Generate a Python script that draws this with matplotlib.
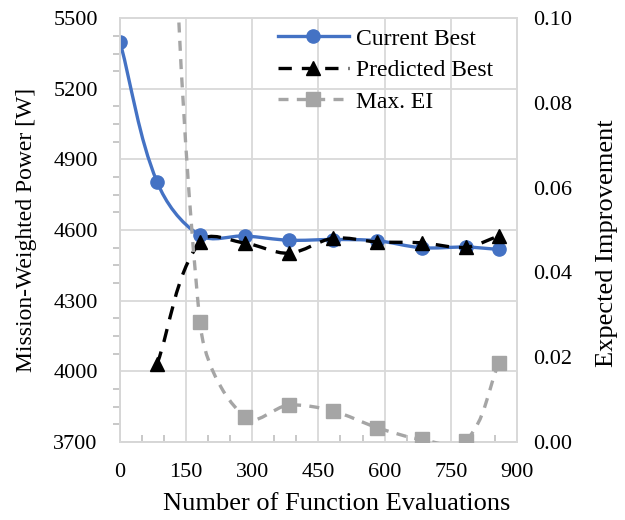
import matplotlib
matplotlib.use("Agg")
import numpy as np
import matplotlib.pyplot as plt
from matplotlib.path import Path
from matplotlib.patches import PathPatch
from matplotlib.lines import Line2D
from matplotlib.ticker import FixedLocator

plt.rcParams['font.family'] = ['Liberation Serif', 'DejaVu Serif']
plt.rcParams['font.size'] = 16

# data
evals_current = [0, 84, 181, 283, 383, 483, 583, 684, 784, 859]
current_best = [5400, 4805, 4578, 4575, 4557, 4560, 4555, 4525, 4528, 4518]

evals_pred = [84, 181, 283, 383, 483, 583, 684, 784, 859]
predicted_best = [4030, 4550, 4545, 4502, 4565, 4550, 4546, 4527, 4575]

evals_ei = [84, 181, 283, 383, 483, 583, 684, 784, 859]
max_ei = [0.22, 0.0284, 0.0058, 0.0087, 0.0073, 0.0034, 0.0006, 0.0003, 0.0186]

BLUE = '#4472C4'
GRAY = '#A5A5A5'
GRID = '#D9D9D9'
AXC = '#BFBFBF'


# Excel-like smoothed line: cubic bezier through the points,
# control points worked out in screen space
def smooth_path(a, xs, ys):
    P = a.transData.transform(np.column_stack([xs, ys]))
    n = len(P)
    verts = [P[0]]
    codes = [Path.MOVETO]
    for i in range(n - 1):
        p0 = P[i - 1] if i > 0 else P[i]
        p1, p2 = P[i], P[i + 1]
        p3 = P[i + 2] if i + 2 < n else P[i + 1]
        d = np.hypot(*(p2 - p1))
        t1 = p2 - p0
        t2 = p3 - p1
        c1 = p1 + t1 / np.hypot(*t1) * d / 3
        c2 = p2 - t2 / np.hypot(*t2) * d / 3
        verts += [c1, c2, p2]
        codes += [Path.CURVE4] * 3
    verts = a.transData.inverted().transform(np.array(verts))
    return Path(verts, codes)


fig = plt.figure(figsize=(6.25, 5.2), dpi=100)
ax = fig.add_axes([0.192, 0.15, 0.635, 0.815])
ax2 = ax.twinx()

ax.set_xlim(0, 900)
ax.set_ylim(3700, 5500)
ax2.set_ylim(0, 0.10)

# current best
ax.add_patch(PathPatch(smooth_path(ax, evals_current, current_best), fill=False,
                       edgecolor=BLUE, lw=2.4, zorder=3))
ax.plot(evals_current, current_best, ls='none', marker='o', ms=9.5,
        color=BLUE, zorder=4)

# predicted best
ax.add_patch(PathPatch(smooth_path(ax, evals_pred, predicted_best), fill=False,
                       edgecolor='black', lw=2.4, ls=(0, (4, 3)), zorder=5))
ax.plot(evals_pred, predicted_best, ls='none', marker='^', ms=9.5,
        color='black', zorder=6)

# max expected improvement
ax2.add_patch(PathPatch(smooth_path(ax2, evals_ei, max_ei), fill=False,
                        edgecolor=GRAY, lw=2.4, ls=(0, (3, 2.5)), zorder=3))
ax2.plot(evals_ei, max_ei, ls='none', marker='s', ms=9.5, color=GRAY, zorder=4)

ax.set_xticks(range(0, 901, 150))
ax.xaxis.set_minor_locator(FixedLocator(range(0, 901, 50)))
ax.set_yticks(range(3700, 5501, 300))
ax.yaxis.set_minor_locator(FixedLocator(range(3700, 5501, 75)))
ax2.set_yticks([0, 0.02, 0.04, 0.06, 0.08, 0.10])
ax2.set_yticklabels(['0.00', '0.02', '0.04', '0.06', '0.08', '0.10'])

ax.grid(True, which='major', color=GRID, lw=1.3)
ax.set_axisbelow(True)
for a in (ax, ax2):
    for s in a.spines.values():
        s.set_color(GRID)
        s.set_linewidth(1.3)
ax.spines['left'].set_color(AXC)
ax.spines['bottom'].set_color(AXC)

ax.tick_params(axis='x', which='major', length=0, pad=15)
ax.tick_params(axis='x', which='minor', direction='in', length=5,
               color=AXC, width=1.2)
ax.tick_params(axis='y', which='major', length=0, pad=16)
ax.tick_params(axis='y', which='minor', direction='out', length=5,
               color=AXC, width=1.2)
ax2.tick_params(axis='y', length=0, pad=12)

ax.set_xlabel('Number of Function Evaluations', fontsize=19)
ax.xaxis.set_label_coords(0.545, -0.12)
ax.set_ylabel('Mission-Weighted Power [W]', fontsize=17)
ax.yaxis.set_label_coords(-0.21, 0.5)
ax2.set_ylabel('Expected Improvement', fontsize=19)
ax2.yaxis.set_label_coords(1.2, 0.47)

handles = [
    Line2D([], [], color=BLUE, lw=2.4, marker='o', ms=9.5),
    Line2D([], [], color='black', lw=2.4, ls=(0, (4, 3)), marker='^', ms=9.5),
    Line2D([], [], color=GRAY, lw=2.4, ls=(0, (3, 2.5)), marker='s', ms=9.5),
]
ax2.legend(handles, ['Current Best', 'Predicted Best', 'Max. EI'],
           loc='upper right', bbox_to_anchor=(0.975, 1.01), frameon=False,
           handlelength=3.0, handletextpad=0.3, labelspacing=0.42,
           fontsize=17, borderaxespad=0.2)

fig.savefig('out.png', dpi=100)
